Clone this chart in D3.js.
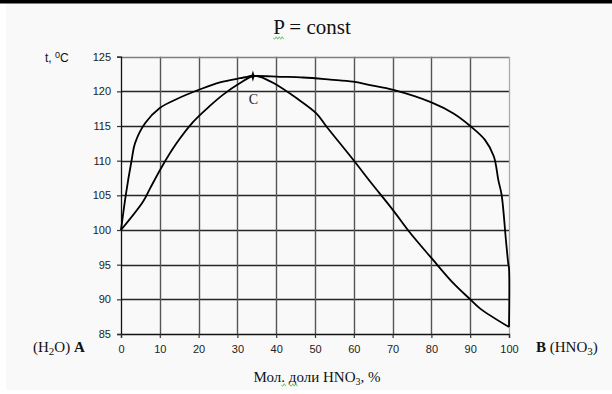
<!DOCTYPE html>
<html>
<head>
<meta charset="utf-8">
<script src="https://cdn.jsdelivr.net/npm/d3@7"></script>
<style>
  html, body { margin: 0; padding: 0; background: #ffffff; }
  svg { display: block; }
</style>
</head>
<body>
<svg id="chart" width="612" height="394"></svg>
<script>
// Boiling diagram of the H2O – HNO3 system at constant pressure
const xTicks = [0, 10, 20, 30, 40, 50, 60, 70, 80, 90, 100];
const yTicks = [85, 90, 95, 100, 105, 110, 115, 120, 125];

// Vapour (dew) curve: mole % HNO3 and temperature, °C
const vaporX = [0, 1.3, 2.75, 3.6, 6.2, 10, 14.4, 20.4, 25.5, 30.7, 34, 41, 47, 53.9, 59.8, 64.2, 70.2, 80, 85.7, 90, 93.8, 96.1, 97.25, 98.1, 99.2, 99.8, 100, 100];
const vaporT = [100, 105.3, 110.1, 112.5, 115.4, 117.6, 118.9, 120.3, 121.3, 121.9, 122.2, 122.1, 122.0, 121.7, 121.4, 120.9, 120.2, 118.4, 116.8, 115.0, 113.0, 110.6, 107.2, 105.05, 98.6, 95.2, 94.5, 86];

// Liquid (boiling) curve
const liquidX = [0, 5.7, 7.5, 10.5, 14.3, 18.6, 22.9, 26.5, 30.7, 34, 35.8, 39.3, 45.3, 50.4, 53, 59.9, 64.2, 70.2, 74.5, 80.1, 85.7, 90, 92.5, 100];
const liquidT = [100, 104.1, 106, 109.1, 112.5, 115.6, 117.9, 119.6, 121.2, 122.2, 122.1, 121.2, 119.0, 116.8, 114.9, 110.1, 107, 102.8, 99.6, 95.9, 92.3, 90.0, 88.7, 86];

// Azeotropic point C
const azeoX = [34];
const azeoT = [122.2];
const azeoLabel = ["C"];

const svg = d3.select("#chart");

// page background and top rule
svg.append("rect").attr("x", 6).attr("y", 0).attr("width", 606).attr("height", 390).attr("fill", "#f9f9f9");
svg.append("rect").attr("x", 0).attr("y", 0).attr("width", 612).attr("height", 3.5).attr("fill", "#000");

const x = d3.scaleLinear().domain([0, 100]).range([121, 509]);
const y = d3.scaleLinear().domain([85, 125]).range([334, 56.7]);

// grid
const g = svg.append("g");
g.selectAll("line.h").data(yTicks.filter(d => d > 85 && d < 125)).join("line")
  .attr("x1", x(0)).attr("x2", x(100))
  .attr("y1", d => Math.round(y(d)) + 0.5).attr("y2", d => Math.round(y(d)) + 0.5)
  .attr("stroke", "#262626").attr("stroke-width", 1.3);
g.selectAll("line.v").data(xTicks.filter(d => d > 0 && d < 100)).join("line")
  .attr("y1", y(125)).attr("y2", y(85))
  .attr("x1", d => Math.round(x(d)) + 0.5).attr("x2", d => Math.round(x(d)) + 0.5)
  .attr("stroke", "#555").attr("stroke-width", 1.4);
// frame top and right
g.append("line").attr("x1", x(0)).attr("x2", x(100)).attr("y1", Math.round(y(125)) + 0.5).attr("y2", Math.round(y(125)) + 0.5)
  .attr("stroke", "#808080").attr("stroke-width", 1.3);
g.append("line").attr("x1", x(100) + 0.5).attr("x2", x(100) + 0.5).attr("y1", y(125)).attr("y2", y(85))
  .attr("stroke", "#aaa").attr("stroke-width", 1.3);

// axes
const axisFont = "'Liberation Sans', Arial, sans-serif";
const yAxis = svg.append("g").attr("transform", `translate(${x(0)},0)`)
  .call(d3.axisLeft(y).tickValues(yTicks).tickSize(4).tickPadding(6));
const xAxis = svg.append("g").attr("transform", `translate(0,${y(85)})`)
  .call(d3.axisBottom(x).tickValues(xTicks).tickSize(4).tickPadding(7));
[yAxis, xAxis].forEach(a => {
  a.select(".domain").attr("stroke", "#111").attr("stroke-width", 1.3);
  a.selectAll(".tick line").attr("stroke", "#333").attr("stroke-width", 1.2);
  a.selectAll(".tick text").attr("font-family", axisFont).attr("font-size", 11).attr("fill", "#222");
});

// curves
const line = d3.line().x(d => x(d[0])).y(d => y(d[1])).curve(d3.curveCatmullRom.alpha(0.5));
svg.append("path").datum(vaporX.map((v, i) => [v, vaporT[i]]))
  .attr("d", line).attr("fill", "none").attr("stroke", "#000").attr("stroke-width", 1.8);
svg.append("path").datum(liquidX.map((v, i) => [v, liquidT[i]]))
  .attr("d", line).attr("fill", "none").attr("stroke", "#000").attr("stroke-width", 1.8);

// four-point star marker at C
const sparkle = {
  draw(ctx, size) {
    const r = Math.sqrt(size) * 0.8, k = r * 0.22;
    ctx.moveTo(0, -r); ctx.lineTo(k, -k); ctx.lineTo(r, 0); ctx.lineTo(k, k);
    ctx.lineTo(0, r); ctx.lineTo(-k, k); ctx.lineTo(-r, 0); ctx.lineTo(-k, -k); ctx.closePath();
  }
};
svg.selectAll("path.azeo").data(azeoX).join("path")
  .attr("transform", (d, i) => `translate(${x(d)},${y(azeoT[i])})`)
  .attr("d", d3.symbol().type(sparkle).size(50)).attr("fill", "#000");
svg.selectAll("text.azeo").data(azeoLabel).join("text")
  .attr("x", (d, i) => x(azeoX[i]) + 0.5).attr("y", (d, i) => y(azeoT[i]) + 28)
  .attr("text-anchor", "middle").attr("font-family", "'Liberation Serif', 'Times New Roman', serif")
  .attr("font-size", 14).attr("fill", "#222").text(d => d);

// texts
const serif = "'Liberation Serif', 'Times New Roman', serif";
const title = svg.append("text").attr("x", 312).attr("y", 34).attr("text-anchor", "middle")
  .attr("font-family", serif).attr("font-size", 21).attr("fill", "#111").text("P = const");

const yl = svg.append("text").attr("x", 45).attr("y", 62).attr("font-family", axisFont)
  .attr("font-size", 12).attr("fill", "#111");
yl.append("tspan").text("t, ");
yl.append("tspan").attr("dy", -4).attr("font-size", 9).text("0");
yl.append("tspan").attr("dy", 4).text("C");

const la = svg.append("text").attr("x", 33).attr("y", 352).attr("font-family", serif)
  .attr("font-size", 15).attr("fill", "#111");
la.append("tspan").text("(H");
la.append("tspan").attr("dy", 3).attr("font-size", 11).text("2");
la.append("tspan").attr("dy", -3).text("O) ");
la.append("tspan").attr("font-weight", "bold").text("A");

const lb = svg.append("text").attr("x", 536).attr("y", 352).attr("font-family", serif)
  .attr("font-size", 15).attr("fill", "#111");
lb.append("tspan").attr("font-weight", "bold").text("B");
lb.append("tspan").text(" (HNO");
lb.append("tspan").attr("dy", 3).attr("font-size", 11).text("3");
lb.append("tspan").attr("dy", -3).text(")");

const xl = svg.append("text").attr("x", 317).attr("y", 382).attr("text-anchor", "middle")
  .attr("font-family", serif).attr("font-size", 15).attr("fill", "#111");
xl.append("tspan").text("Мол. доли HNO");
xl.append("tspan").attr("dy", 3).attr("font-size", 10).text("3");
xl.append("tspan").attr("dy", -3).text(", %");

// proofing squiggles under the title letter and the abbreviation
function squiggle(x0, x1, yy) {
  let d = `M${x0},${yy}`;
  for (let xx = x0 + 1.5, s = 1; xx <= x1; xx += 1.5, s = -s) d += ` L${xx},${yy + s * 1.2}`;
  svg.append("path").attr("d", d).attr("fill", "none").attr("stroke", "#5cb85c").attr("stroke-width", 0.9);
}
const pBox = title.node().getExtentOfChar(0);
squiggle(pBox.x, pBox.x + pBox.width, 38);
const xn = xl.node();
const dot = xn.getExtentOfChar(3), de = xn.getExtentOfChar(5);
squiggle(dot.x, dot.x + dot.width + 1, 385);
squiggle(de.x + 1, de.x + de.width + 1, 385);
</script>
</body>
</html>
